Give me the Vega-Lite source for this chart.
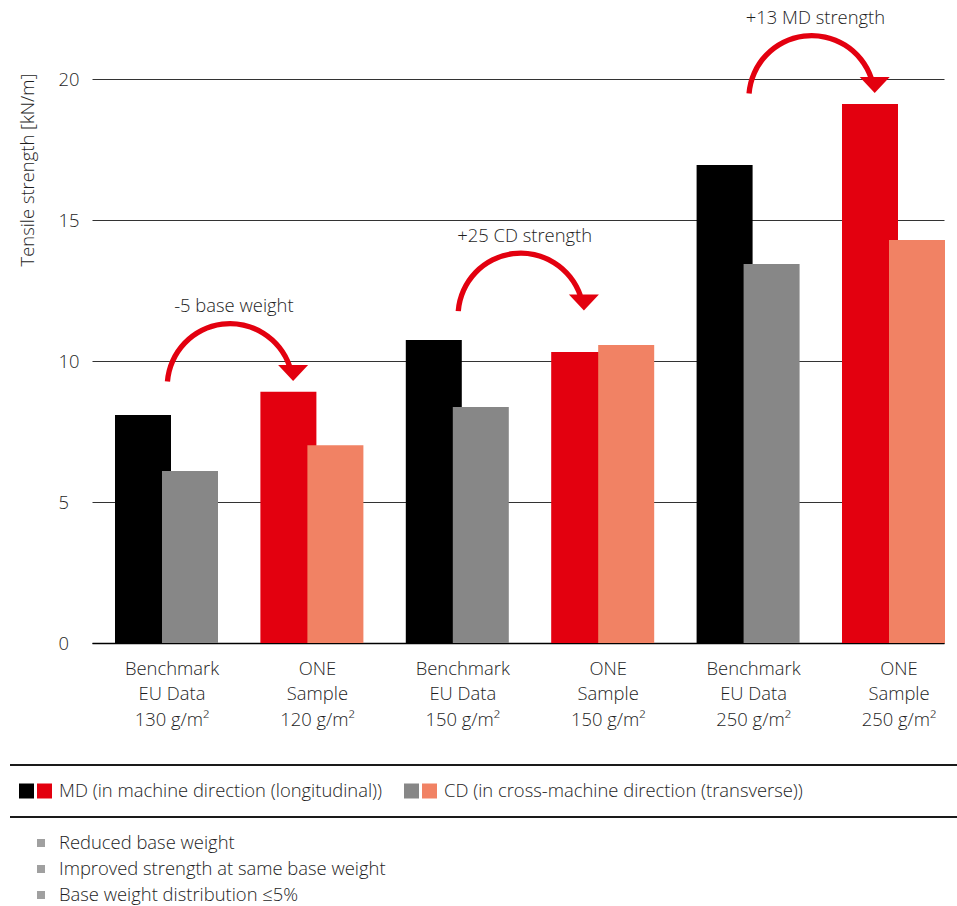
{
  "$schema": "https://vega.github.io/schema/vega-lite/v6.json",
  "padding": {"left": 9, "top": 6, "right": 0, "bottom": 0},
  "config": {
    "font": "Open Sans",
    "view": {"stroke": null},
    "axis": {"labelColor": "#1e1e1e", "labelFont": "Open Sans", "labelFontWeight": 300},
    "text": {"font": "Open Sans", "fontWeight": 300}
  },
  "resolve": {"scale": {"x": "independent", "y": "independent", "xOffset": "independent", "color": "independent"}},
  "spacing": 35,
  "vconcat": [
    {
      "spacing": 12,
      "resolve": {"scale": {"x": "independent", "y": "independent", "xOffset": "independent"}},
      "hconcat": [
        {
          "width": 36,
          "height": 328,
          "data": {"values": [{"title": "Tensile strength [kN/m]"}]},
          "mark": {"type": "text", "angle": 270, "fontSize": 18.4, "fontWeight": 300, "color": "#1e1e1e", "align": "center", "baseline": "middle"},
          "encoding": {"text": {"field": "title", "type": "nominal"}}
        },
        {
          "width": 852,
          "height": 637,
          "layer": [
            {
              "data": {"values": [
                {"group": "Benchmark|EU Data|130 g/m²", "dir": "MD", "series": "Benchmark MD", "value": 8.09},
                {"group": "Benchmark|EU Data|130 g/m²", "dir": "CD", "series": "Benchmark CD", "value": 6.10},
                {"group": "ONE|Sample|120 g/m²", "dir": "MD", "series": "ONE MD", "value": 8.91},
                {"group": "ONE|Sample|120 g/m²", "dir": "CD", "series": "ONE CD", "value": 7.02},
                {"group": "Benchmark|EU Data|150 g/m²", "dir": "MD", "series": "Benchmark MD", "value": 10.75},
                {"group": "Benchmark|EU Data|150 g/m²", "dir": "CD", "series": "Benchmark CD", "value": 8.37},
                {"group": "ONE|Sample|150 g/m²", "dir": "MD", "series": "ONE MD", "value": 10.32},
                {"group": "ONE|Sample|150 g/m²", "dir": "CD", "series": "ONE CD", "value": 10.57},
                {"group": "Benchmark|EU Data|250 g/m²", "dir": "MD", "series": "Benchmark MD", "value": 16.96},
                {"group": "Benchmark|EU Data|250 g/m²", "dir": "CD", "series": "Benchmark CD", "value": 13.45},
                {"group": "ONE|Sample|250 g/m²", "dir": "MD", "series": "ONE MD", "value": 19.12},
                {"group": "ONE|Sample|250 g/m²", "dir": "CD", "series": "ONE CD", "value": 14.30}
              ]},
              "mark": {"type": "bar", "width": 56},
              "encoding": {
                "x": {
                  "field": "group", "type": "nominal", "sort": null,
                  "scale": {
                    "domain": ["Benchmark|EU Data|130 g/m²", "ONE|Sample|120 g/m²", "Benchmark|EU Data|150 g/m²", "ONE|Sample|150 g/m²", "Benchmark|EU Data|250 g/m²", "ONE|Sample|250 g/m²"],
                    "paddingInner": 0.3535, "paddingOuter": 0.1066, "align": 0.887
                  },
                  "axis": {
                    "title": null, "labelAngle": 0, "labelExpr": "split(datum.label, '|')",
                    "labelFontSize": 18.4, "labelLineHeight": 25.5, "labelPadding": 16, "labelOffset": 5.5,
                    "ticks": false, "domain": true, "domainColor": "#000000", "domainWidth": 1.5, "grid": false
                  }
                },
                "xOffset": {"field": "dir", "type": "nominal", "scale": {"domain": ["MD", "CD"], "paddingInner": 0, "paddingOuter": 0}},
                "y": {
                  "field": "value", "type": "quantitative",
                  "scale": {"domain": [0, 22.6], "nice": false},
                  "axis": {
                    "title": null, "values": [0, 5, 10, 15, 20], "grid": true, "gridColor": "#333333", "gridWidth": 1,
                    "domain": false, "ticks": false, "labelFontSize": 18.4, "labelAlign": "left", "labelPadding": 34
                  }
                },
                "color": {
                  "field": "series", "type": "nominal",
                  "scale": {"domain": ["Benchmark MD", "Benchmark CD", "ONE MD", "ONE CD"], "range": ["#000000", "#878787", "#e3000f", "#f18264"]},
                  "legend": null
                }
              }
            },
            {
              "data": {"values": [
                {"label": "-5 base weight", "to": "ONE|Sample|120 g/m²", "y": 9.10},
                {"label": "+25 CD strength", "to": "ONE|Sample|150 g/m²", "y": 11.60},
                {"label": "+13 MD strength", "to": "ONE|Sample|250 g/m²", "y": 19.32}
              ]},
              "layer": [
                {
                  "mark": {"type": "arc", "radius": 65.5, "radius2": 60.2, "theta": -1.492, "theta2": 1.239, "color": "#e3000f"},
                  "encoding": {
                    "x": {"field": "to", "type": "nominal", "bandPosition": -0.37},
                    "y": {"field": "y", "type": "quantitative"}
                  }
                },
                {
                  "mark": {"type": "point", "shape": "M-1,-0.53L1,-0.53L0,0.53Z", "size": 900, "filled": true, "opacity": 1, "color": "#e3000f", "strokeWidth": 0, "yOffset": -13.5},
                  "encoding": {
                    "x": {"field": "to", "type": "nominal", "bandPosition": 0.30},
                    "y": {"field": "y", "type": "quantitative"}
                  }
                },
                {
                  "mark": {"type": "text", "dy": -80.5, "fontSize": 18.4, "fontWeight": 300, "color": "#1e1e1e"},
                  "encoding": {
                    "x": {"field": "to", "type": "nominal", "bandPosition": -0.33},
                    "y": {"field": "y", "type": "quantitative"},
                    "text": {"field": "label", "type": "nominal"}
                  }
                }
              ]
            }
          ]
        }
      ]
    },
    {
      "width": 948,
      "height": 130,
      "encoding": {
        "x": {"field": "col", "type": "nominal", "scale": {"type": "band", "domain": ["left", "right"], "paddingInner": 0.9065, "paddingOuter": 0.6844, "align": 0.01423}, "axis": null},
        "y": {"field": "row", "type": "nominal", "scale": {"type": "point", "domain": ["top rule", "legend", "bottom rule", "note 1", "note 2", "note 3"], "padding": 0}, "axis": null}
      },
      "layer": [
        {
          "data": {"values": [{"row": "top rule"}, {"row": "bottom rule"}]},
          "mark": {"type": "rule", "strokeWidth": 2, "color": "#1a1a1a"},
          "encoding": {"x": null}
        },
        {
          "data": {"values": [
            {"row": "legend", "col": "left", "product": "Benchmark", "series": "Benchmark MD"},
            {"row": "legend", "col": "left", "product": "ONE", "series": "ONE MD"},
            {"row": "legend", "col": "right", "product": "Benchmark", "series": "Benchmark CD"},
            {"row": "legend", "col": "right", "product": "ONE", "series": "ONE CD"}
          ]},
          "encoding": {
            "color": {
              "field": "series", "type": "nominal",
              "scale": {"domain": ["Benchmark MD", "Benchmark CD", "ONE MD", "ONE CD"], "range": ["#000000", "#878787", "#e3000f", "#f18264"]},
              "legend": null
            }
          },
          "layer": [
            {
              "transform": [{"filter": "datum.product === 'Benchmark'"}],
              "mark": {"type": "square", "size": 225, "filled": true, "opacity": 1},
              "encoding": {"x": {"field": "col", "type": "nominal", "bandPosition": 0.25}}
            },
            {
              "transform": [{"filter": "datum.product === 'ONE'"}],
              "mark": {"type": "square", "size": 225, "filled": true, "opacity": 1},
              "encoding": {"x": {"field": "col", "type": "nominal", "bandPosition": 0.75}}
            }
          ]
        },
        {
          "data": {"values": [
            {"row": "legend", "col": "left", "label": "MD (in machine direction (longitudinal))"},
            {"row": "legend", "col": "right", "label": "CD (in cross-machine direction (transverse))"},
            {"row": "note 1", "col": "left", "label": "Reduced base weight"},
            {"row": "note 2", "col": "left", "label": "Improved strength at same base weight"},
            {"row": "note 3", "col": "left", "label": "Base weight distribution ≤5%"}
          ]},
          "mark": {"type": "text", "align": "left", "baseline": "middle", "fontSize": 18.4, "fontWeight": 300, "color": "#1e1e1e"},
          "encoding": {
            "x": {"field": "col", "type": "nominal", "bandPosition": 1.153},
            "text": {"field": "label", "type": "nominal"}
          }
        },
        {
          "data": {"values": [
            {"row": "note 1", "col": "left"},
            {"row": "note 2", "col": "left"},
            {"row": "note 3", "col": "left"}
          ]},
          "mark": {"type": "square", "size": 64, "filled": true, "opacity": 1, "color": "#a0a0a0"},
          "encoding": {
            "x": {"field": "col", "type": "nominal", "bandPosition": 0.653}
          }
        }
      ]
    }
  ]
}
